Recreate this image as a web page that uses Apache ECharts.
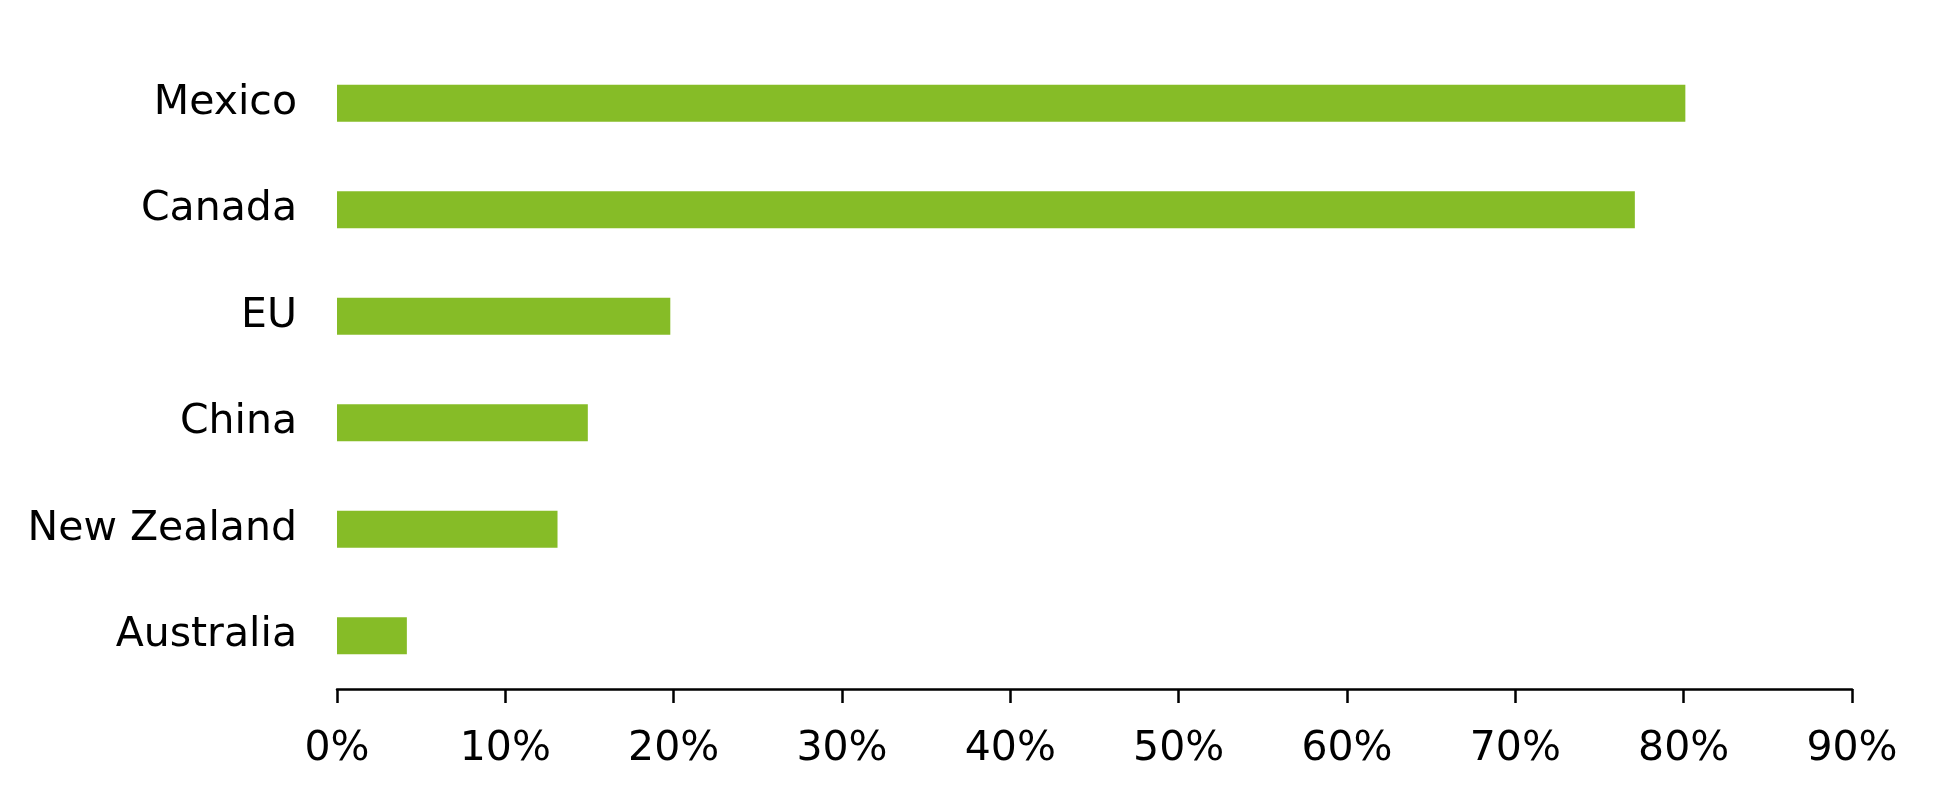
<!DOCTYPE html>
<html>
<head>
<meta charset="utf-8">
<script src="https://cdn.jsdelivr.net/npm/echarts@6/dist/echarts.min.js"></script>
<style>
html,body{margin:0;padding:0;background:#fff;}
#chart{width:1951px;height:797px;}
</style>
</head>
<body>
<div id="chart"></div>
<script>
const categories = ['Mexico', 'Canada', 'EU', 'China', 'New Zealand', 'Australia'];
const shares = [80.1, 77.1, 19.8, 14.9, 13.1, 4.15];
const xTicks = [0, 10, 20, 30, 40, 50, 60, 70, 80, 90];

const chart = echarts.init(document.getElementById('chart'));
chart.setOption({
  animation: false,
  backgroundColor: '#ffffff',
  grid: { left: 337, right: 99, top: 50, bottom: 108, containLabel: false },
  xAxis: {
    type: 'value',
    min: xTicks[0],
    max: xTicks[xTicks.length - 1],
    interval: 10,
    splitLine: { show: false },
    axisLine: { show: true, lineStyle: { color: '#000', width: 2.5 } },
    axisTick: { show: true, length: 14, lineStyle: { color: '#000', width: 2.5 } },
    axisLabel: {
      margin: 40,
      color: '#000',
      fontFamily: 'DejaVu Sans',
      fontSize: 41,
      formatter: v => v + '%'
    }
  },
  yAxis: {
    type: 'category',
    inverse: true,
    data: categories,
    axisLine: { show: false },
    axisTick: { show: false },
    axisLabel: {
      margin: 40,
      color: '#000',
      fontFamily: 'DejaVu Sans',
      fontSize: 41,
      padding: [11, 0, 0, 0]
    }
  },
  series: [{
    type: 'bar',
    data: shares,
    barWidth: 37,
    itemStyle: { color: '#86bc27' }
  }]
});
</script>
</body>
</html>
